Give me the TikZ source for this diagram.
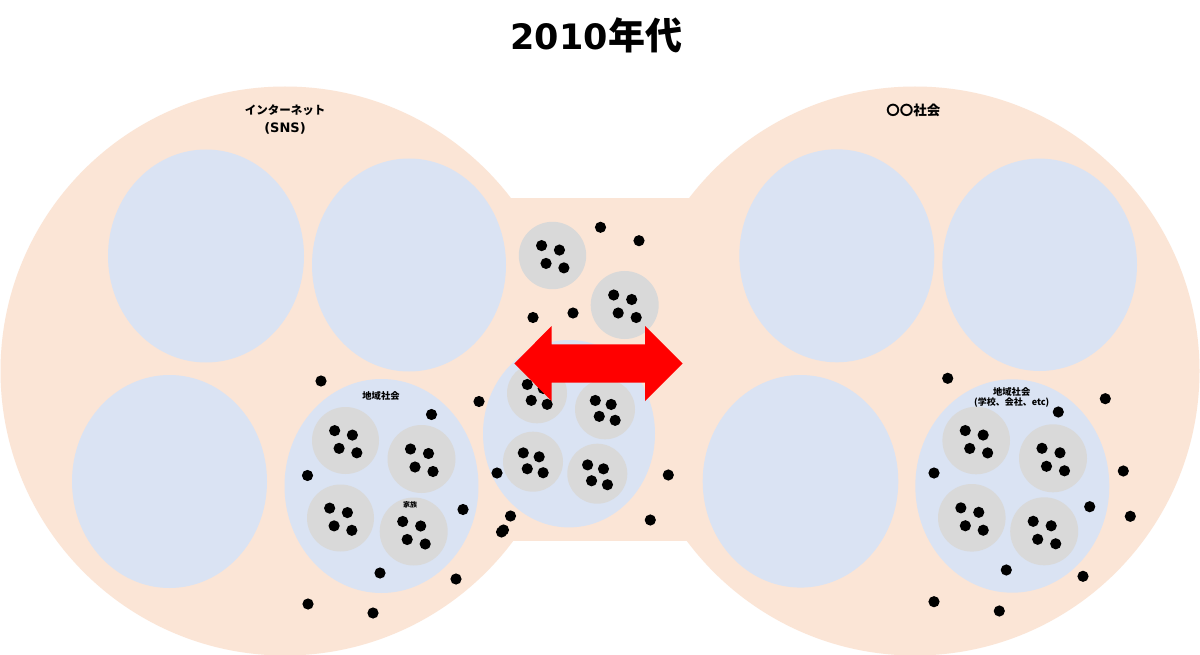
\documentclass[tikz,border=0pt]{standalone}
\usepackage{fontspec}
\newfontfamily\jp{Noto Sans CJK JP}
\newfontfamily\lat{DejaVu Sans}
\definecolor{peach}{HTML}{FBE5D6}
\definecolor{lblue}{HTML}{DAE3F3}
\definecolor{lgray}{HTML}{D9D9D9}
\definecolor{arrred}{HTML}{FF0000}
\tikzset{
  peachfill/.style={fill=peach, draw=none},
  blobfill/.style={fill=lblue, draw=none},
  famfill/.style={fill=lgray, draw=none},
  dotfill/.style={fill=black, draw=none},
  lbl/.style={inner sep=0pt, anchor=base, text=black},
  jpsz/.style={font=\jp\bfseries\fontsize{#1}{#1}\selectfont},
}
\newcommand\bdot[2]{\fill[dotfill] (#1,#2) circle[radius=5.6];}
\newcommand\famgrp[3]{%
  \fill[famfill] (#1,#2) circle[radius=#3];
  \pgfmathsetmacro\fgscale{#3/34}
  \foreach \dx/\dy in {-11/-10,7/-5.5,-6.5/8,11.5/12.5}
    {\fill[dotfill] ({#1+\fgscale*\dx},{#2+\fgscale*\dy}) circle[radius=5.6];}
}
\begin{document}
\begin{tikzpicture}[x=1pt,y=-1pt]
\useasboundingbox (0,0) rectangle (1200,655);
\fill[white] (0,0) rectangle (1200,655);
% background shapes
\fill[peachfill] (285,371) circle[radius=284.5];
\fill[peachfill] (915,371) circle[radius=284.5];
\fill[peachfill] (450,198) rectangle (750,541);
% left ellipses
\fill[blobfill] (206,256) ellipse[x radius=98, y radius=106.5];
\fill[blobfill] (409,265) ellipse[x radius=97, y radius=106.5];
\fill[blobfill] (169.5,481.5) ellipse[x radius=97.5, y radius=106.5];
\fill[blobfill] (381.5,486) ellipse[x radius=97, y radius=107];
% right ellipses
\fill[blobfill] (836.8,255.8) ellipse[x radius=97.5, y radius=106.5];
\fill[blobfill] (1039.7,264.8) ellipse[x radius=97.3, y radius=106.2];
\fill[blobfill] (800.5,481.3) ellipse[x radius=97.8, y radius=106.3];
\fill[blobfill] (1012.3,486) ellipse[x radius=97, y radius=106.7];
% middle ellipse
\fill[blobfill] (569,433.7) ellipse[x radius=86, y radius=93.7];
% family groups
\famgrp{345.5}{440.5}{33.5}
\famgrp{421.5}{459}{34}
\famgrp{340.5}{518}{33.5}
\famgrp{413.7}{531.5}{34}
\famgrp{976.2}{440.5}{33.8}
\famgrp{1053}{458.3}{34}
\famgrp{971.8}{517.8}{33.8}
\famgrp{1044.2}{531.3}{34}
\famgrp{552.5}{255.5}{33.7}
\famgrp{624.7}{305}{34}
\famgrp{537}{393.3}{30}
\famgrp{605}{409.3}{30}
\famgrp{533}{461.7}{30}
\famgrp{597.3}{473.7}{30}
% loose dots (left and middle)
\bdot{321}{381}
\bdot{431.5}{414.5}
\bdot{307.5}{475.5}
\bdot{479}{401.5}
\bdot{463}{509.5}
\bdot{380}{573}
\bdot{456}{579}
\bdot{308}{604}
\bdot{373}{613}
\bdot{497}{473}
\bdot{510.5}{516}
\bdot{503.5}{530}
\bdot{501.5}{532}
\bdot{533}{317.5}
\bdot{573}{313}
\bdot{600.5}{227.3}
\bdot{639}{240.7}
\bdot{668.3}{475}
\bdot{650.3}{520}
% loose dots (right)
\bdot{947.7}{378.3}
\bdot{1105.3}{398.7}
\bdot{1058.3}{412}
\bdot{934}{473}
\bdot{1123.3}{471}
\bdot{1089.7}{506.7}
\bdot{1130.3}{516.3}
\bdot{1006.3}{570}
\bdot{1083}{576.3}
\bdot{934}{601.7}
\bdot{999.3}{611}
% red double arrow
\fill[arrred] (514.3,363.5) -- (551.7,326) -- (551.7,344.3) -- (645,344.3) -- (645,326)
  -- (682.7,363.5) -- (645,401) -- (645,382.7) -- (551.7,382.7) -- (551.7,401) -- cycle;
% labels
\node[lbl, font=\bfseries\fontsize{35}{40}\selectfont] (title) at (596.3,49.3)
  {{\lat 2010}{\jp\fontsize{37}{40}\selectfont 年代}};
\node[lbl, jpsz=11.5] (net1) at (285,115) {インターネット};
\node[lbl, font=\lat\bfseries\fontsize{13}{13}\selectfont] (net2) at (285,132.7) {(SNS)};
\node[lbl, jpsz=13.5] (soc) at (913.3,116) {〇〇社会};
\node[lbl, jpsz=9.3] (locl) at (381,399) {地域社会};
\node[lbl, jpsz=7] (fam) at (410,507.5) {家族};
\node[lbl, jpsz=9.3] (locr1) at (1011.7,395) {地域社会};
\node[lbl, jpsz=9] (locr2) at (1011.7,405.5) {(学校、会社、etc)};
\end{tikzpicture}
\end{document}
